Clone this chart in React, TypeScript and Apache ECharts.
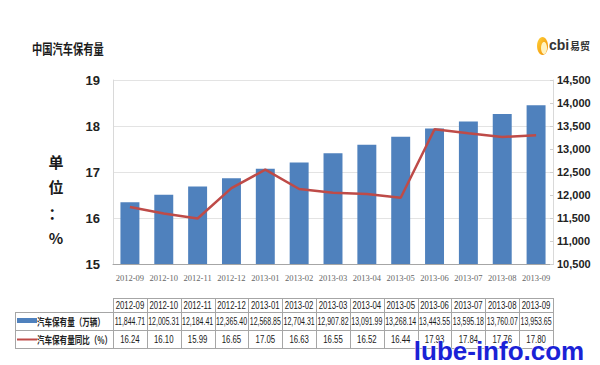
import React, { useEffect, useRef } from "react";
import * as echarts from "echarts";

const months = [
  "2012-09", "2012-10", "2012-11", "2012-12", "2013-01", "2013-02", "2013-03",
  "2013-04", "2013-05", "2013-06", "2013-07", "2013-08", "2013-09",
];
const ownership = [
  11844.71, 12005.31, 12184.41, 12365.4, 12568.85, 12704.31, 12907.82,
  13091.99, 13268.14, 13443.55, 13595.18, 13760.07, 13953.65,
];
const growth = [16.24, 16.1, 15.99, 16.65, 17.05, 16.63, 16.55, 16.52, 16.44, 17.93, 17.84, 17.76, 17.8];
const leftAxis = { min: 15, max: 19, interval: 1 };
const rightAxis = { min: 10500, max: 14500, interval: 500 };
const seriesNames = ["汽车保有量（万辆）", "汽车保有量同比（%）"];
const title = "中国汽车保有量";
const unitChars = ["单", "位", "：", "%"];
const watermark = "lube-info.com";

const BLUE = "#4f81bd";
const RED = "#be4b48";
const SANS = "'Liberation Sans', Arial, sans-serif";
const CJK = "'Noto Sans CJK SC', sans-serif";

export default function App() {
  const ref = useRef<HTMLDivElement>(null);
  useEffect(() => {
    document.body.style.margin = "0";
    const el = ref.current!;
    const chart = echarts.init(el, null, { renderer: "svg" });
    const option: any = {
      animation: false,
      backgroundColor: "#ffffff",
      grid: { left: 113, right: 47, top: 80, bottom: 101 },
      xAxis: {
        type: "category",
        data: months,
        boundaryGap: true,
        axisLine: { show: true, lineStyle: { color: "#a6a6a6", width: 1 } },
        axisTick: { show: false },
        axisLabel: {
          interval: 0,
          margin: 9,
          fontSize: 8.5,
          color: "#666",
          fontFamily: "'Liberation Serif', serif",
        },
      },
      yAxis: [
        {
          type: "value",
          min: leftAxis.min,
          max: leftAxis.max,
          interval: leftAxis.interval,
          position: "left",
          axisLine: { show: true, lineStyle: { color: "#d9d9d9" } },
          axisTick: { show: false },
          splitLine: { show: true, lineStyle: { color: "#e3e3e3", width: 1 } },
          axisLabel: {
            margin: 13,
            fontSize: 13,
            fontWeight: "bold",
            color: "#222",
            fontFamily: SANS,
          },
        },
        {
          type: "value",
          min: rightAxis.min,
          max: rightAxis.max,
          interval: rightAxis.interval,
          position: "right",
          axisLine: { show: true, lineStyle: { color: "#d9d9d9" } },
          axisTick: { show: true, inside: true, length: 3, lineStyle: { color: "#cfcfcf" } },
          splitLine: { show: false },
          axisLabel: {
            margin: 4,
            fontSize: 11,
            fontWeight: "bold",
            color: "#222",
            fontFamily: SANS,
            formatter: (v: number) => v.toLocaleString("en-US"),
          },
        },
      ],
      series: [
        {
          name: seriesNames[0],
          type: "bar",
          yAxisIndex: 1,
          data: ownership,
          barWidth: "56%",
          itemStyle: { color: BLUE },
        },
        {
          name: seriesNames[1],
          type: "line",
          yAxisIndex: 0,
          data: growth,
          symbol: "none",
          lineStyle: { color: RED, width: 2.5 },
          itemStyle: { color: RED },
          z: 5,
        },
      ],
    };
    chart.setOption(option);

    const xs = months.map((m) => chart.convertToPixel({ xAxisIndex: 0 }, m) as number);
    const W = xs[1] - xs[0];
    const colLeft = xs[0] - W / 2;
    const colRight = xs[xs.length - 1] + W / 2;
    const rowsY = [298, 312, 330, 348];
    const tableLeft = 15;
    const stroke = "#a6a6a6";
    const g: any[] = [];
    const hl = (y: number, x1: number, x2: number) =>
      g.push({ type: "line", shape: { x1, y1: y + 0.5, x2, y2: y + 0.5 }, style: { stroke, lineWidth: 1 }, z: 10 });
    const vl = (x: number, y1: number, y2: number) =>
      g.push({ type: "line", shape: { x1: Math.round(x) + 0.5, y1, x2: Math.round(x) + 0.5, y2 }, style: { stroke, lineWidth: 1 }, z: 10 });
    hl(rowsY[0], colLeft, colRight);
    hl(rowsY[1], tableLeft, colRight);
    hl(rowsY[2], tableLeft, colRight);
    hl(rowsY[3], tableLeft, colRight);
    vl(tableLeft, rowsY[1], rowsY[3]);
    for (let i = 0; i <= months.length; i++) vl(colLeft + i * W, rowsY[0], rowsY[3] + 1);

    const cellText = (x: number, y: number, text: string, sx: number) =>
      g.push({
        type: "text",
        x,
        y,
        scaleX: sx,
        originX: 0,
        originY: 0,
        z: 11,
        style: {
          text,
          fontSize: 10,
          fontFamily: SANS,
          fill: "#1a1a1a",
          align: "center",
          verticalAlign: "middle",
          textAlign: "center",
          textVerticalAlign: "middle",
        },
      });
    months.forEach((m, i) => cellText(xs[i], (rowsY[0] + rowsY[1]) / 2 + 0.5, m, 0.78));
    ownership.forEach((v, i) =>
      cellText(
        xs[i],
        (rowsY[1] + rowsY[2]) / 2 + 0.5,
        v.toLocaleString("en-US", { minimumFractionDigits: 2, maximumFractionDigits: 2 }),
        0.7
      )
    );
    growth.forEach((v, i) => cellText(xs[i], (rowsY[2] + rowsY[3]) / 2 + 0.5, v.toFixed(2), 0.78));

    // row headers
    g.push({ type: "rect", shape: { x: 17, y: 318, width: 20, height: 5 }, style: { fill: BLUE }, z: 11 });
    g.push({ type: "line", shape: { x1: 17, y1: 339.5, x2: 37, y2: 339.5 }, style: { stroke: RED, lineWidth: 2 }, z: 11 });
    const rowLabel = (y: number, text: string) =>
      g.push({
        type: "text",
        x: 37,
        y,
        scaleX: 0.72,
        originX: 0,
        originY: 0,
        z: 11,
        style: {
          text,
          fontSize: 10.5,
          fontWeight: "bold",
          fontFamily: CJK,
          fill: "#222",
          align: "left",
          verticalAlign: "middle",
          textAlign: "left",
          textVerticalAlign: "middle",
        },
      });
    rowLabel(321, seriesNames[0]);
    rowLabel(339.5, seriesNames[1]);

    // title
    g.push({
      type: "text",
      x: 32,
      y: 48,
      scaleX: 0.76,
      originX: 0,
      originY: 0,
      style: {
        text: title,
        fontSize: 13.5,
        fontWeight: "bold",
        fontFamily: CJK,
        fill: "#1a1a1a",
        align: "left",
        verticalAlign: "middle",
        textAlign: "left",
        textVerticalAlign: "middle",
      },
    });
    // vertical unit label
    unitChars.forEach((c, i) =>
      g.push({
        type: "text",
        x: 56,
        y: 161 + i * 25.5,
        style: {
          text: c,
          fontSize: 15,
          fontWeight: "bold",
          fontFamily: CJK,
          fill: "#1a1a1a",
          align: "center",
          verticalAlign: "middle",
          textAlign: "center",
          textVerticalAlign: "middle",
        },
      })
    );
    // logo
    g.push({
      type: "ellipse",
      shape: { cx: 542.5, cy: 46, rx: 5.5, ry: 9 },
      style: {
        fill: new echarts.graphic.LinearGradient(0, 0, 1, 1, [
          { offset: 0, color: "#ffd23a" },
          { offset: 1, color: "#f08a00" },
        ]),
      },
    });
    g.push({
      type: "ellipse",
      shape: { cx: 544, cy: 48, rx: 3, ry: 6 },
      style: { fill: "#fff3c0" },
    });
    g.push({
      type: "text",
      x: 549,
      y: 45,
      style: {
        text: "cbi",
        fontSize: 14,
        fontWeight: "bold",
        fontFamily: SANS,
        fill: "#333",
        align: "left",
        verticalAlign: "middle",
        textAlign: "left",
        textVerticalAlign: "middle",
      },
    });
    g.push({
      type: "text",
      x: 570,
      y: 45,
      style: {
        text: "易贸",
        fontSize: 10,
        fontWeight: "bold",
        fontFamily: CJK,
        fill: "#333",
        align: "left",
        verticalAlign: "middle",
        textAlign: "left",
        textVerticalAlign: "middle",
      },
    });
    // watermark
    g.push({
      type: "text",
      x: 499,
      y: 364,
      z: 20,
      style: {
        text: watermark,
        fontSize: 26,
        fontWeight: "bold",
        fontFamily: SANS,
        fill: "#1a22d6",
        stroke: "#ffffff",
        lineWidth: 1,
        align: "center",
        verticalAlign: "bottom",
        textAlign: "center",
        textVerticalAlign: "bottom",
      },
    });

    chart.setOption({ graphic: { elements: g } });
    return () => chart.dispose();
  }, []);
  return (
    <div
      ref={ref}
      style={{ position: "fixed", left: 0, top: 0, width: 600, height: 365, background: "#fff" }}
    />
  );
}
